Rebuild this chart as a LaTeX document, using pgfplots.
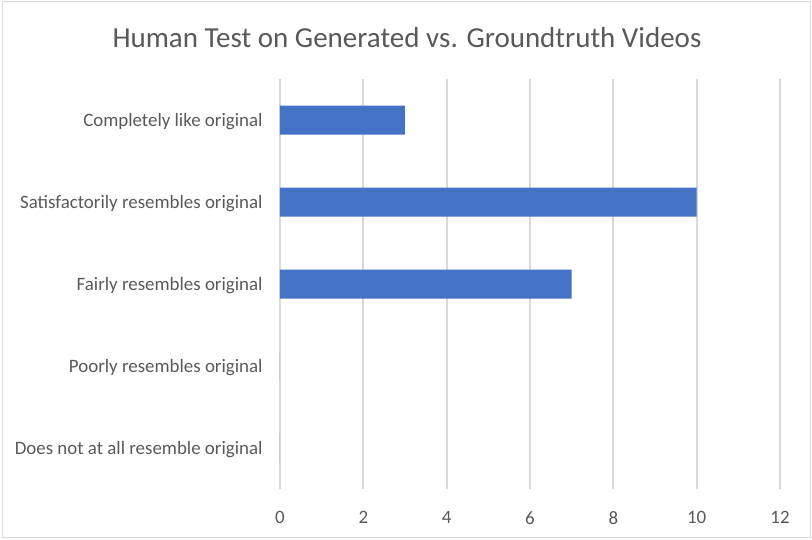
\documentclass[border=0pt]{standalone}
\usepackage{pgfplots}
\pgfplotsset{compat=1.18}
\usepackage{fontspec}
\setmainfont{Carlito}
\definecolor{barblue}{HTML}{4472C4}
\definecolor{gridgray}{HTML}{D9D9D9}
\definecolor{txtgray}{HTML}{595959}
\begin{document}
\begin{tikzpicture}[x=1pt,y=1pt]
\path[use as bounding box] (0,0) rectangle (812,539);
\draw[gridgray, line width=1pt] (2,1.5) rectangle (810.5,537.5);
\node[txtgray, font=\fontsize{29}{33}\selectfont] at (407,501) {Human Test on Generated vs. Groundtruth Videos};
\begin{axis}[
  at={(280pt,50pt)}, anchor=south west,
  scale only axis, width=500pt, height=410pt,
  xbar, bar width=29pt,
  xmin=0, xmax=12, ymin=-0.5, ymax=4.5,
  xtick={0,2,...,12},
  ytick={0,1,2,3,4},
  yticklabels={Does not at all resemble original, Poorly resembles original, Fairly resembles original, Satisfactorily resembles original, Completely like original},
  axis line style={draw=none},
  major tick length=0pt,
  xmajorgrids, ymajorgrids=false,
  grid style={gridgray, line width=1.8pt},
  tick label style={txtgray, font=\fontsize{18.9}{21}\selectfont},
  /pgf/number format/assume math mode=true,
  yticklabel style={anchor=east, xshift=-14pt, yshift=-2pt},
  xticklabel style={anchor=north, yshift=-19pt},
]
\addplot[fill=barblue, draw=none] coordinates {(0,0) (0,1) (7,2) (10,3) (3,4)};
\end{axis}
\end{tikzpicture}
\end{document}
